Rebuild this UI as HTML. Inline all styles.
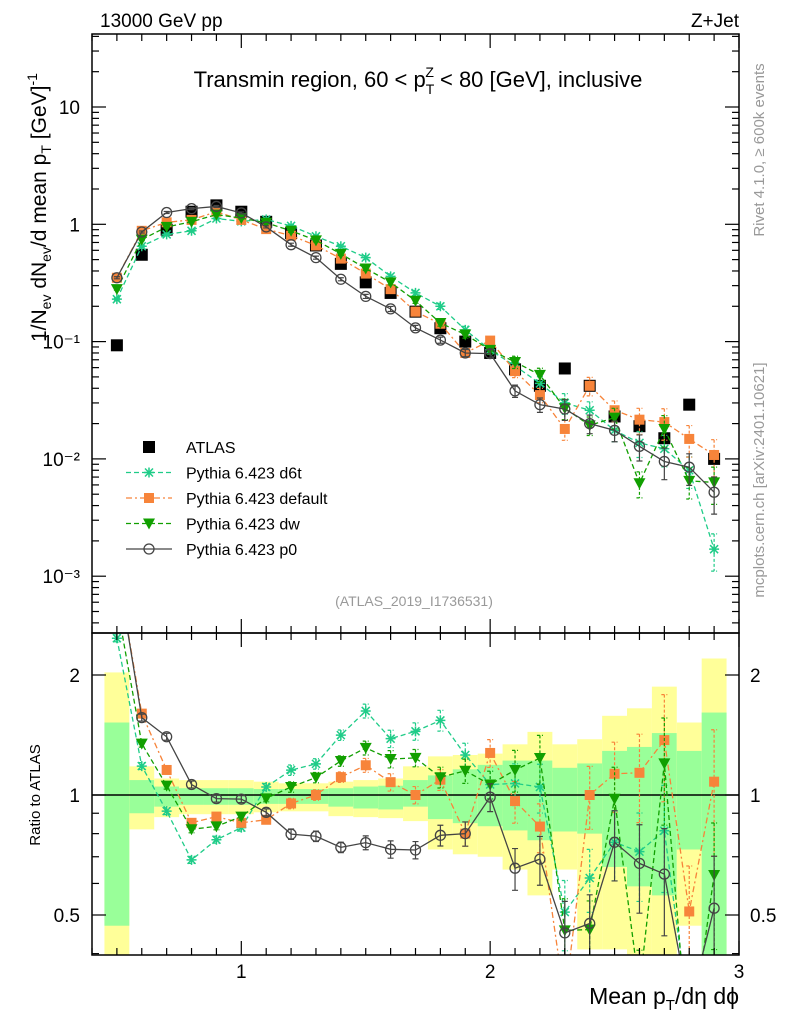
<!DOCTYPE html>
<html><head><meta charset="utf-8"><style>
html,body{margin:0;padding:0;background:#fff;overflow:hidden;}
svg{display:block;font-family:"Liberation Sans",sans-serif;}
</style></head><body>
<svg id="chart" width="786" height="1024" viewBox="0 0 786 1024" xmlns="http://www.w3.org/2000/svg">
<g id="bands"></g>
<g id="marks"></g>
<g id="axes"></g>
<text x="100" y="27" font-size="19">13000 GeV pp</text>
<text x="739" y="27" font-size="19" text-anchor="end">Z+Jet</text>
<text x="418" y="87" font-size="22" text-anchor="middle">Transmin region, 60 &lt; p<tspan font-size="14" dy="7">T</tspan><tspan font-size="14" dx="-9" dy="-17">Z</tspan><tspan dy="10"> &lt; 80 [GeV], inclusive</tspan></text>
<text x="414" y="606" font-size="14" fill="#999" text-anchor="middle">(ATLAS_2019_I1736531)</text>
<text transform="translate(764,150) rotate(-90)" font-size="15" fill="#999" text-anchor="middle">Rivet 4.1.0, ≥ 600k events</text>
<text transform="translate(764,480) rotate(-90)" font-size="15" fill="#999" text-anchor="middle">mcplots.cern.ch [arXiv:2401.10621]</text>
<text transform="translate(46,342) rotate(-90)" font-size="21" text-anchor="start">1/N<tspan font-size="14" dy="5">ev</tspan><tspan dy="-5"> dN</tspan><tspan font-size="14" dy="5">ev</tspan><tspan dy="-5">/d mean p</tspan><tspan font-size="14" dy="5">T</tspan><tspan dy="-5"> [GeV]</tspan><tspan font-size="14" dy="-9">-1</tspan></text>
<text transform="translate(40,795) rotate(-90)" font-size="15" text-anchor="middle">Ratio to ATLAS</text>
<text x="739" y="1004" font-size="23" text-anchor="end">Mean p<tspan font-size="15" dy="6">T</tspan><tspan dy="-6">/dη dϕ</tspan></text>
<g id="legend"></g>
</svg>
<script>
const xCenters=[0.5,0.6,0.7,0.8,0.9,1.0,1.1,1.2,1.3,1.4,1.5,1.6,1.7,1.8,1.9,2.0,2.1,2.2,2.3,2.4,2.5,2.6,2.7,2.8,2.9];
const atlas=[0.093,0.55,0.9,1.28,1.45,1.28,1.05,0.84,0.66,0.46,0.32,0.26,0.18,0.13,0.10,0.08,0.058,0.042,0.059,0.042,0.023,0.019,0.015,0.029,0.010];
const d6t=[0.23,0.65,0.82,0.88,1.12,1.06,1.10,0.97,0.79,0.65,0.52,0.36,0.26,0.20,0.126,0.085,0.062,0.044,0.030,0.026,0.0175,0.0137,0.0122,0.0080,0.0017];
const dflt=[0.35,0.88,1.04,1.09,1.28,1.09,0.91,0.80,0.66,0.51,0.38,0.28,0.18,0.142,0.080,0.102,0.056,0.035,0.018,0.042,0.026,0.0216,0.0206,0.0148,0.0108];
const dw=[0.28,0.74,0.95,1.05,1.21,1.13,1.03,0.88,0.73,0.56,0.42,0.32,0.223,0.144,0.115,0.085,0.067,0.052,0.027,0.0193,0.0225,0.0062,0.018,0.0065,0.0063];
const p0=[0.35,0.86,1.26,1.36,1.42,1.25,0.95,0.67,0.52,0.34,0.243,0.19,0.131,0.103,0.080,0.079,0.038,0.029,0.0266,0.020,0.0175,0.0128,0.0095,0.0085,0.0052];
const mcErr=[0.02,0.02,0.02,0.02,0.02,0.02,0.02,0.03,0.03,0.03,0.04,0.05,0.05,0.06,0.07,0.08,0.12,0.14,0.2,0.18,0.2,0.25,0.3,0.3,0.35];
const yelUp=[2.03,1.18,1.10,1.09,1.09,1.09,1.08,1.07,1.07,1.08,1.09,1.10,1.18,1.25,1.26,1.27,1.34,1.44,1.34,1.38,1.58,1.65,1.87,1.52,2.20];
const yelLo=[0.30,0.82,0.88,0.895,0.895,0.895,0.905,0.91,0.91,0.885,0.88,0.875,0.86,0.73,0.71,0.70,0.65,0.56,0.65,0.41,0.41,0.39,0.39,0.47,0.30];
const grnUp=[1.52,1.09,1.05,1.04,1.04,1.04,1.035,1.035,1.035,1.04,1.05,1.055,1.09,1.12,1.16,1.19,1.22,1.22,1.17,1.20,1.29,1.32,1.43,1.29,1.61];
const grnLo=[0.47,0.90,0.935,0.945,0.945,0.945,0.95,0.95,0.95,0.935,0.925,0.92,0.935,0.87,0.85,0.835,0.815,0.77,0.81,0.80,0.66,0.59,0.56,0.73,0.39];
const yTickLabels=["10","1","10\u207B\u00B9","10\u207B\u00B2","10\u207B\u00B3"];
const xTickLabels=["1","2","3"];

const L=92,R=739,T=34,MB=633,RB=955;
const X=v=>L+(v-0.4)/(3-0.4)*(R-L);
const Y=v=>107+(1-Math.log10(v))*117.3;
const RY=r=>795-Math.log2(r)*120;
const NS="http://www.w3.org/2000/svg";
function mk(tag,attrs,parent){const e=document.createElementNS(NS,tag);for(const k in attrs)e.setAttribute(k,attrs[k]);parent.appendChild(e);return e;}
const bands=document.getElementById('bands'),marks=document.getElementById('marks'),axes=document.getElementById('axes'),leg=document.getElementById('legend');
const clipR=mk('clipPath',{id:'cr'},document.getElementById('chart'));mk('rect',{x:L,y:MB,width:R-L,height:RB-MB},clipR);
const clipM=mk('clipPath',{id:'cm'},document.getElementById('chart'));mk('rect',{x:L,y:T,width:R-L,height:MB-T},clipM);
bands.setAttribute('clip-path','url(#cr)');
xCenters.forEach((c,i)=>{
  const x0=X(c-0.05),x1=X(c+0.05);
  const y=mk('rect',{x:x0,y:RY(yelUp[i]),width:x1-x0,height:RY(yelLo[i])-RY(yelUp[i]),fill:'#ffff99'},bands);
  
  
  const g=mk('rect',{x:x0,y:RY(grnUp[i]),width:x1-x0,height:RY(grnLo[i])-RY(grnUp[i]),fill:'#99ff99'},bands);
  
  
});
const ref=mk('line',{x1:L,x2:R,y1:RY(1),y2:RY(1),stroke:'#000','stroke-width':1.5},bands);



function marker(type,x,y,col,g){
  if(type==='sq')return mk('rect',{x:x-6,y:y-6,width:12,height:12,fill:col},g);
  if(type==='osq')return mk('rect',{x:x-5,y:y-5,width:10,height:10,fill:col},g);
  if(type==='tri')return mk('path',{d:`M${x-6},${y-5}L${x+6},${y-5}L${x},${y+6}Z`,fill:col},g);
  if(type==='circ')return mk('circle',{cx:x,cy:y,r:5,fill:'none',stroke:col,'stroke-width':1.3},g);
  if(type==='star'){return mk('path',{d:`M${x-5},${y}H${x+5}M${x},${y-5}V${y+5}M${x-4},${y-4}L${x+4},${y+4}M${x-4},${y+4}L${x+4},${y-4}`,stroke:col,'stroke-width':1.5},g);}
}
const series=[
 {name:'d6t',vals:d6t,col:'#1fcc88',dash:'5,3',m:'star',label:'Pythia 6.423 d6t'},
 {name:'default',vals:dflt,col:'#f7843a',dash:'6,3,2,3',m:'osq',label:'Pythia 6.423 default'},
 {name:'dw',vals:dw,col:'#119f00',dash:'5,3',m:'tri',label:'Pythia 6.423 dw'},
 {name:'p0',vals:p0,col:'#444',dash:'',m:'circ',label:'Pythia 6.423 p0'}
];
function drawSeries(s,ratio){
  const g=mk('g',{'clip-path':ratio?'url(#cr)':'url(#cm)'},marks);
  
  
  const f=ratio?(v,i)=>RY(v/atlas[i]):(v,i)=>Y(v);
  const pts=s.vals.map((v,i)=>X(xCenters[i])+','+f(v,i)).join(' ');
  mk('polyline',{points:pts,fill:'none',stroke:s.col,'stroke-width':1.3,'stroke-dasharray':s.dash},g);
  s.vals.forEach((v,i)=>{
    const x=X(xCenters[i]),e=mcErr[i];
    const y1=f(v*(1+e),i),y2=f(Math.max(v*(1-e),1e-6),i);
    mk('path',{d:`M${x},${y1}V${y2}M${x-3},${y1}H${x+3}M${x-3},${y2}H${x+3}`,stroke:s.col,'stroke-width':1.2,'stroke-dasharray':s.dash?'3,2':''},g);
    const m=marker(s.m,x,f(v,i),s.col,g);
    
    
  });
}
const ga=mk('g',{'clip-path':'url(#cm)'},marks);


atlas.forEach((v,i)=>{const m=marker('sq',X(xCenters[i]),Y(v),'#000',ga);
 
 });
series.forEach(s=>{drawSeries(s,false);drawSeries(s,true);});

mk('rect',{x:L,y:T,width:R-L,height:MB-T,fill:'none',stroke:'#000','stroke-width':1.5},axes);
mk('rect',{x:L,y:MB,width:R-L,height:RB-MB,fill:'none',stroke:'#000','stroke-width':1.5},axes);
for(let k=4;k<=30;k++){const v=k/10,x=X(v),maj=(k%10===0);const len=maj?14:7;
 [[T,1],[MB,-1],[MB,1],[RB,-1]].forEach(([y,d])=>mk('line',{x1:x,x2:x,y1:y,y2:y+d*len,stroke:'#000','stroke-width':1.2},axes));}
xTickLabels.forEach(t=>{const e=mk('text',{x:X(+t),y:978,'font-size':19,'text-anchor':'middle'},axes);e.textContent=t;
 
 });
for(let d=-4;d<=1;d++){for(let m=1;m<=9;m++){const v=m*Math.pow(10,d),y=Y(v);if(y<T||y>MB)continue;const len=m===1?14:7;
 mk('line',{x1:L,x2:L+len,y1:y,y2:y,stroke:'#000','stroke-width':1.2},axes);mk('line',{x1:R,x2:R-len,y1:y,y2:y,stroke:'#000','stroke-width':1.2},axes);}}
yTickLabels.forEach((t,i)=>{const e=mk('text',{x:80,y:Y(Math.pow(10,1-i))+7,'font-size':19,'text-anchor':'end'},axes);e.textContent=t;
 
 });
[0.4,0.5,0.6,0.7,0.8,0.9,1,2].forEach(v=>{const y=RY(v),len=(v===0.5||v===1||v===2)?14:7;
 mk('line',{x1:L,x2:L+len,y1:y,y2:y,stroke:'#000','stroke-width':1.2},axes);mk('line',{x1:R,x2:R-len,y1:y,y2:y,stroke:'#000','stroke-width':1.2},axes);});
["0.5","1","2"].forEach(t=>{const y=RY(+t)+7;
 const a=mk('text',{x:80,y:y,'font-size':19,'text-anchor':'end'},axes);a.textContent=t;
 
 
 const b=mk('text',{x:750,y:y,'font-size':19},axes);b.textContent=t;
 
 });
const entries=[{m:'sq',col:'#000',dash:null,label:'ATLAS'}].concat(series);
entries.forEach((s,i)=>{const y=447+i*25.5;const g=mk('g',{},leg);
 
 
 if(s.dash!==null){mk('line',{x1:126,x2:172,y1:y,y2:y,stroke:s.col,'stroke-width':1.3,'stroke-dasharray':s.dash},g);}
 marker(s.m,149,y,s.col,g);
 const t=mk('text',{x:186,y:y+6,'font-size':16},g);t.textContent=s.label;});
</script>
</body></html>
